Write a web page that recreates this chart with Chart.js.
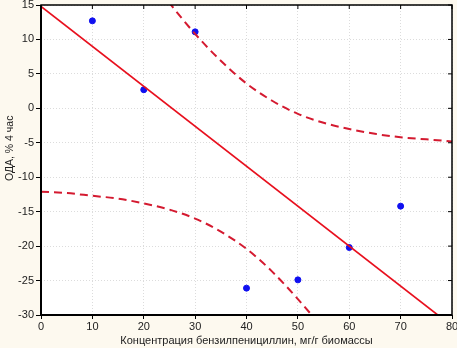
<!DOCTYPE html>
<html>
<head>
<meta charset="utf-8">
<script src="https://cdn.jsdelivr.net/npm/chart.js@4/dist/chart.umd.min.js"></script>
<style>
  html, body { margin: 0; padding: 0; background: #fdf9ef; }
  #wrap { width: 457px; height: 348px; position: relative; }
</style>
</head>
<body>
<div id="wrap"><canvas id="chart"></canvas></div>
<script>
// observed points
const xPoints = [10, 20, 30, 40, 50, 60, 70];
const yPoints = [12.7, 2.7, 11.1, -26.1, -24.9, -20.2, -14.2];

// regression line end points
const fitX = [0, 80];
const fitY = [14.8, -31.6];

// dashed confidence band, read every 5 units
const bandX = [0, 5, 10, 15, 20, 25, 30, 35, 40, 45, 50, 55, 60, 65, 70, 75, 80];
const upperBand = [41.7, 36.1, 30.7, 25.3, 20.2, 15.3, 10.8, 6.9, 3.6, 1.1, -0.8, -2.1, -3.0, -3.7, -4.2, -4.5, -4.8];
const lowerBand = [-12.1, -12.3, -12.7, -13.1, -13.8, -14.7, -16.0, -17.9, -20.4, -23.7, -27.7, -32.1, -37.0, -42.2, -47.5, -52.9, -58.5];

const xTitle = "Концентрация бензилпенициллин, мг/г биомассы";
const yTitle = "ОДА, % 4 час";

const pts = (xs, ys) => xs.map((x, i) => ({ x: x, y: ys[i] }));

// frame + inward ticks on top / right, like the original plot
const framePlugin = {
  id: "frame",
  beforeDraw(chart) {
    const a = chart.chartArea;
    const ctx = chart.ctx;
    ctx.save();
    ctx.fillStyle = "#ffffff";
    ctx.fillRect(a.left, a.top, a.right - a.left, a.bottom - a.top);
    ctx.restore();
  },
  afterDraw(chart) {
    const a = chart.chartArea;
    const ctx = chart.ctx;
    const xs = chart.scales.x, ys = chart.scales.y;
    ctx.save();
    ctx.strokeStyle = "#000";
    ctx.lineWidth = 1.5;
    ctx.strokeRect(a.left, a.top, a.right - a.left, a.bottom - a.top);
    ctx.lineWidth = 2;
    ctx.beginPath();
    ctx.moveTo(a.left, a.top);
    ctx.lineTo(a.left, a.bottom);
    ctx.lineTo(a.right, a.bottom);
    ctx.stroke();
    ctx.lineWidth = 1;
    ctx.beginPath();
    xs.ticks.forEach(t => {
      const px = xs.getPixelForValue(t.value);
      ctx.moveTo(px, a.top);
      ctx.lineTo(px, a.top + 4);
    });
    ys.ticks.forEach(t => {
      const py = ys.getPixelForValue(t.value);
      ctx.moveTo(a.right, py);
      ctx.lineTo(a.right - 4, py);
    });
    ctx.stroke();
    ctx.restore();
  }
};

Chart.defaults.font.family = "'Liberation Sans', Arial, sans-serif";
Chart.defaults.font.size = 11;
Chart.defaults.color = "#222";

new Chart(document.getElementById("chart").getContext("2d"), {
  type: "scatter",
  data: {
    datasets: [
      {
        label: "points",
        data: pts(xPoints, yPoints),
        backgroundColor: "#1010f0",
        borderColor: "#1010f0",
        pointRadius: 3,
        order: 3
      },
      {
        label: "fit",
        data: pts(fitX, fitY),
        showLine: true,
        borderColor: "#e8101e",
        borderWidth: 1.7,
        pointRadius: 0,
        clip: 0,
        order: 1
      },
      {
        label: "upper",
        data: pts(bandX, upperBand),
        showLine: true,
        borderColor: "#d41a30",
        borderWidth: 2,
        borderDash: [8, 5],
        cubicInterpolationMode: "monotone",
        pointRadius: 0,
        clip: 0,
        order: 2
      },
      {
        label: "lower",
        data: pts(bandX, lowerBand),
        showLine: true,
        borderColor: "#d41a30",
        borderWidth: 2,
        borderDash: [8, 5],
        cubicInterpolationMode: "monotone",
        pointRadius: 0,
        clip: 0,
        order: 2
      }
    ]
  },
  options: {
    responsive: true,
    maintainAspectRatio: false,
    animation: false,
    layout: { padding: { top: 4, right: 4, left: 0, bottom: 0 } },
    plugins: {
      legend: { display: false },
      tooltip: { enabled: false }
    },
    scales: {
      x: {
        type: "linear",
        min: 0,
        max: 80,
        ticks: { stepSize: 10, padding: 1 },
        grid: {
          color: "#dcdcdc",
          tickColor: "#000",
          tickLength: 4,
          tickBorderDash: []
        },
        border: { display: false, dash: [1, 2] },
        title: { display: true, text: xTitle, padding: { top: 4, bottom: 0 } },
        afterFit(s) {
          s.height = 33;
          s.paddingLeft = 0;
          s.paddingRight = 0;
        }
      },
      y: {
        type: "linear",
        min: -30,
        max: 15,
        ticks: { stepSize: 5, padding: 2 },
        grid: {
          color: "#dcdcdc",
          tickColor: "#000",
          tickLength: 5,
          tickBorderDash: []
        },
        border: { display: false, dash: [1, 2] },
        title: {
          display: true,
          text: "        " + yTitle,
          font: { size: 10.5 },
          padding: { top: 4, bottom: 0 }
        },
        afterFit(s) {
          s.width = 41;
          s.paddingTop = 0;
          s.paddingBottom = 0;
        }
      }
    }
  },
  plugins: [framePlugin]
});
</script>
</body>
</html>
